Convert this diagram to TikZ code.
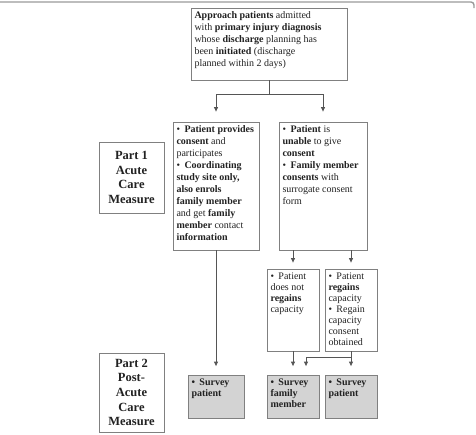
\documentclass[tikz,border=0pt]{standalone}
\usepackage{fontspec}
\setmainfont{Liberation Serif}
\usetikzlibrary{arrows.meta,calc}
\definecolor{boxline}{HTML}{808080}
\definecolor{wireline}{HTML}{555555}
\definecolor{surveyfill}{HTML}{D3D3D3}
\definecolor{inkcolor}{HTML}{222222}
\definecolor{framecolor}{HTML}{999999}
\newcommand{\itm}{\par\hangindent=8pt\noindent\makebox[8pt][l]{\textbullet}}
\newcommand{\cell}[3]{\parbox[c][\dimexpr#2pt-7pt\relax][t]{\dimexpr#1pt-7pt\relax}{\raggedright#3}}
\newcommand{\partcell}[3]{\parbox[c][\dimexpr#2pt-7pt\relax][c]{\dimexpr#1pt-7pt\relax}{\centering#3}}
\tikzset{
  block/.style={
    draw=boxline,
    fill=#1,
    line width=0.8pt,
    inner xsep=3.5pt,
    inner ysep=3.5pt,
    text=inkcolor,
    font=\fontsize{10}{12}\selectfont
  },
  block/.default=white,
  smallblock/.style={block=#1, font=\fontsize{10}{11}\selectfont},
  smallblock/.default=white,
  partlabel/.style={block, font=\bfseries\fontsize{12.5}{14.6}\selectfont},
  wire/.style={
    draw=wireline,
    line width=0.8pt,
    -{Triangle[length=4.5pt,width=4pt]}
  },
  frame/.style={draw=framecolor, line width=1.4pt, rounded corners=3pt}
}
\begin{document}
\begin{tikzpicture}[x=1pt,y=-1pt]
  \path[use as bounding box] (0,0) rectangle (476,434);
  \draw[frame] (0,2) -| (474,8);

  \node[block] (approach) at (269,44)
    {\cell{156}{72}{\textbf{Approach patients} admitted\\
     with \textbf{primary injury diagnosis}\\
     whose \textbf{discharge} planning has\\
     been \textbf{initiated} (discharge\\
     planned within 2 days)}};

  \node[partlabel] (partone) at (131.5,177.5)
    {\partcell{65}{71}{Part 1\\Acute\\Care\\Measure}};
  \node[partlabel] (parttwo) at (131.5,392.5)
    {\partcell{65}{79}{Part 2\\Post-\\Acute\\Care\\Measure}};

  \node[block] (consent) at (216,186)
    {\cell{86}{128}{\itm\textbf{Patient provides}\\
     \textbf{consent} and\\ participates
     \itm\textbf{Coordinating}\\ \textbf{study site only,}\\
     \textbf{also enrols}\\ \textbf{family member}\\
     and get \textbf{family}\\ \textbf{member} contact\\
     \textbf{information}}};
  \node[block] (unable) at (323,186)
    {\cell{88}{128}{\itm\textbf{Patient} is\\
     \textbf{unable} to give\\ \textbf{consent}
     \itm\textbf{Family member}\\ \textbf{consents} with\\
     surrogate consent\\ form}};

  \node[smallblock] (nogain) at (293,310)
    {\cell{52}{82}{\itm Patient\\ does not\\ \textbf{regains}\\ capacity}};
  \node[smallblock] (regain) at (351,310)
    {\cell{52}{82}{\itm Patient\\ \textbf{regains}\\ capacity
     \itm Regain\\ capacity\\ consent\\ obtained}};

  \node[smallblock=surveyfill] (surveyown) at (216,397)
    {\cell{56}{43}{\bfseries\itm Survey\\ patient}};
  \node[smallblock=surveyfill] (surveyfam) at (293,397)
    {\cell{52}{43}{\bfseries\itm Survey\\ family\\ member}};
  \node[smallblock=surveyfill] (surveypat) at (351,397)
    {\cell{52}{43}{\bfseries\itm Survey\\ patient}};

  \draw[wire, shorten >=10pt] (approach.south) -- ++(0,14) -| (consent.north);
  \draw[wire, shorten >=10pt] (approach.south) -- ++(0,14) -| (unable.north);
  \draw[wire, shorten >=6pt] (unable.south -| nogain.north) -- (nogain.north);
  \draw[wire, shorten >=6pt] (unable.south -| regain.north) -- (regain.north);
  \draw[wire, shorten >=9pt] (nogain.south) -- (surveyfam.north);
  \draw[wire, shorten >=9pt] (regain.south) -- (surveypat.north);
  \draw[wire, shorten >=9pt] (regain.south) -- ++(0,6)
    -| ($(surveyfam.north)+(13,0)$);
  \draw[wire, shorten >=9pt] (consent.south) -- (surveyown.north);
\end{tikzpicture}
\end{document}
